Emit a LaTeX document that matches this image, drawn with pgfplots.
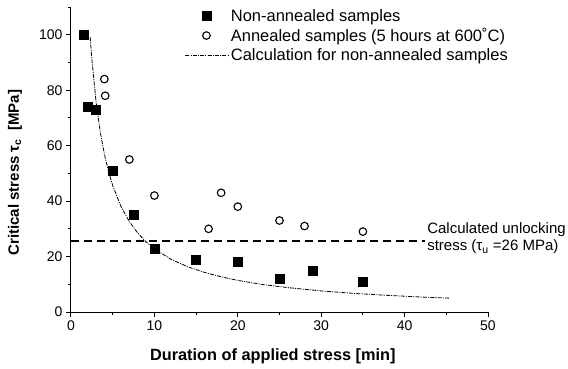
\documentclass[border=0pt]{standalone}
\usepackage{fontspec}
\setmainfont{Liberation Sans}
\usepackage{pgfplots}
\pgfplotsset{compat=1.18}
\begin{document}
\begin{tikzpicture}
\begin{axis}[
  scale only axis,
  width=417pt, height=305pt,
  xmin=0, xmax=50, ymin=0, ymax=110,
  axis lines=left,
  axis line style={-, line width=1pt},
  xtick={0,10,...,50}, ytick={0,20,...,100},
  minor xtick={5,15,...,45}, minor ytick={10,30,...,110},
  tick align=outside,
  major tick length=5pt, minor tick length=3pt,
  every tick/.style={black, line width=1pt},
  /pgf/number format/assume math mode=true,
  tick label style={font=\fontsize{14}{16}\selectfont},
  xlabel={\bfseries Duration of applied stress [min]},
  ylabel={\bfseries Critical stress τ\textsubscript{c}\ \ [MPa]},
  xlabel style={font=\fontsize{16.3}{19}\selectfont, at={(axis description cs:0.484,-0.146)}, anchor=center},
  ylabel style={font=\fontsize{15}{18}\selectfont, at={(axis description cs:-0.134,0.457)}, anchor=center},
  clip=false,
  legend style={draw=none, fill=none, at={(rel axis cs:0.273,1.0)}, anchor=north west,
    font=\fontsize{16.5}{19}\selectfont, row sep=1.5pt, inner sep=0pt},
  legend cell align=left,
  legend image code/.code={\draw[mark repeat=2,mark phase=2,#1] plot coordinates {(0pt,0pt) (21pt,0pt) (43pt,0pt)};},
]
\coordinate (o) at (rel axis cs:0,0);
\addplot[only marks, mark=square*, mark size=4.5pt, black] coordinates {
(1.5,100) (2,74) (3,73) (5,51) (7.5,35) (10,23) (15,19) (20,18) (25,12) (29,15) (35,11)};
\addlegendentry{Non-annealed samples}
\addplot[only marks, mark=o, mark size=3.8pt, black, line width=1.1pt] coordinates {
(4,84) (4.1,78) (7,55) (10,42) (16.5,30) (18,43) (20,38) (25,33) (28,31) (35,29)};
\addlegendentry{Annealed samples (5 hours at 600˚C)}
\addplot[black, line width=0.8pt, dash pattern=on 4pt off 1.2pt on 1pt off 1.2pt] coordinates {
(2.3,99.1) (2.5,91.2) (3,76) (3.5,65.1) (4,57) (4.5,50.7) (5,45.6) (6,38) (7,32.6) (8,28.5) (9,25.3) (10,22.8) (12,19) (14,16.3) (16,14.3) (18,12.7) (20,11.4) (23,9.9) (26,8.8) (30,7.6) (34,6.7) (38,6.0) (42,5.4) (45.3,5.0)};
\addlegendentry{Calculation for non-annealed samples}
\addplot[black, line width=2pt, dash pattern=on 8pt off 5pt, forget plot] coordinates {(0,25.7) (42.4,25.7)};
\node[anchor=west, align=left, inner sep=0pt, font=\fontsize{15}{17.5}\selectfont] at (axis cs:42.7,26.6) {Calculated unlocking\\stress (τ\textsubscript{u} =26 MPa)};
\end{axis}
\pgfresetboundingbox
\path[use as bounding box] (o) ++(-71pt,-56pt) rectangle ++(568pt,368pt);
\end{tikzpicture}
\end{document}
